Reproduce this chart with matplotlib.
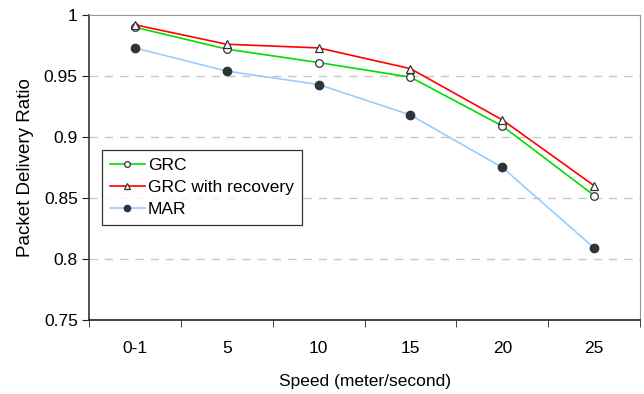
import numpy as np
import matplotlib.pyplot as plt

plt.rcParams['font.family'] = ['Liberation Sans', 'DejaVu Sans']

# data
speeds = ['0-1', '5', '10', '15', '20', '25']
grc = [0.990, 0.972, 0.961, 0.949, 0.909, 0.852]
grc_recovery = [0.992, 0.976, 0.973, 0.956, 0.914, 0.860]
mar = [0.973, 0.954, 0.943, 0.918, 0.875, 0.809]

x = np.arange(len(speeds))
fs = 12.5

fig = plt.figure(figsize=(6.44, 3.94), dpi=100)
ax = fig.add_axes([0.138, 0.188, 0.856, 0.774])

ax.plot(x, grc, color='#00dd00', lw=1.2, marker='o', ms=5.5,
        mfc='white', mec='#333333', mew=0.9, label='GRC', zorder=3)
ax.plot(x, grc_recovery, color='#ff0000', lw=1.2, marker='^', ms=6,
        mfc='white', mec='#333333', mew=0.9, label='GRC with recovery', zorder=3)
ax.plot(x, mar, color='#99ccff', lw=1.2, marker='o', ms=6,
        mfc='#333333', mec='#333333', label='MAR', zorder=3)

ax.set_xlim(-0.5, len(speeds) - 0.5)
ax.set_ylim(0.75, 1.0)
ax.set_yticks([0.75, 0.8, 0.85, 0.9, 0.95, 1.0])
ax.set_yticklabels(['0.75', '0.8', '0.85', '0.9', '0.95', '1'])
ax.set_xticks(x)
ax.set_xticklabels(speeds)
ax.set_xticks(np.arange(len(speeds) + 1) - 0.5, minor=True)
ax.tick_params(axis='x', which='major', length=0, pad=15, labelsize=fs)
ax.tick_params(axis='x', which='minor', length=5, direction='out', color='#222222')
ax.tick_params(axis='y', length=5, direction='out', labelsize=fs, color='#222222', pad=3)

for y in [0.8, 0.85, 0.9, 0.95]:
    ax.axhline(y, color='#c8c8c8', lw=1, ls=(0, (6, 5)), zorder=1)

ax.spines['left'].set_color('#333333')
ax.spines['bottom'].set_color('#222222')
ax.spines['left'].set_linewidth(1.2)
ax.spines['bottom'].set_linewidth(1.2)
ax.spines['top'].set_color('#999999')
ax.spines['right'].set_color('#999999')

ax.set_xlabel('Speed (meter/second)', fontsize=fs, labelpad=13)
ax.set_ylabel('Packet Delivery Ratio', fontsize=13.5, labelpad=7)

leg = ax.legend(loc='upper left', bbox_to_anchor=(0.024, 0.557), fontsize=fs,
                frameon=True, fancybox=False, edgecolor='black', markerscale=0.75,
                handlelength=2.0, borderpad=0.45, labelspacing=0.4, handletextpad=0.2,
                borderaxespad=0)
leg.get_frame().set_linewidth(0.9)

plt.savefig('out.png', dpi=100)
